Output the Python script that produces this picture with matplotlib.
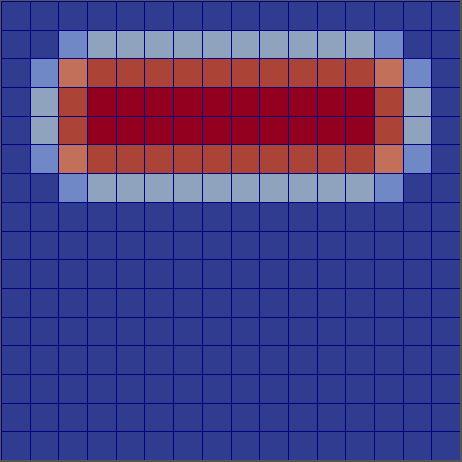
import numpy as np
import matplotlib
matplotlib.use("Agg")
import matplotlib.pyplot as plt
from matplotlib.colors import ListedColormap, BoundaryNorm

# heat levels per cell (0 = cold background, 5 = hottest core)
row_bg = [0] * 16
row_edge = [0, 0, 1, 2, 2, 2, 2, 2, 2, 2, 2, 2, 2, 1, 0, 0]
row_warm = [0, 1, 3, 4, 4, 4, 4, 4, 4, 4, 4, 4, 4, 3, 1, 0]
row_core = [0, 2, 4, 5, 5, 5, 5, 5, 5, 5, 5, 5, 5, 4, 2, 0]

grid = [row_bg, row_edge, row_warm, row_core, row_core, row_warm, row_edge] + [row_bg] * 9

level_colors = ["#303c8f", "#7089c6", "#8fa2be", "#c3705a", "#ab4436", "#93001f"]

data = np.array(grid)
cmap = ListedColormap(level_colors)
norm = BoundaryNorm(np.arange(-0.5, 6.5, 1), cmap.N)

fig = plt.figure(figsize=(4.62, 4.62), dpi=100, facecolor="#555555")
ax = fig.add_axes([1 / 462, 2 / 462, 459 / 462, 459 / 462])
ax.pcolormesh(data, cmap=cmap, norm=norm, edgecolors="#000080", linewidth=0.6)
ax.set_xlim(0, 16)
ax.set_ylim(16, 0)
ax.set_axis_off()

fig.savefig("out.png", dpi=100, facecolor=fig.get_facecolor())
